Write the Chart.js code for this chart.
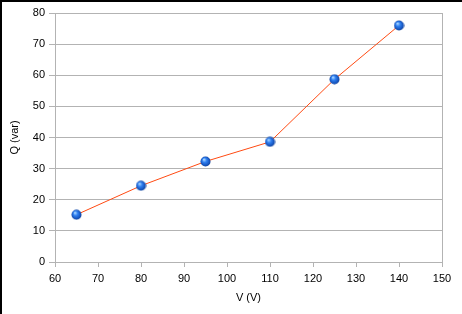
<!DOCTYPE html>
<html><head><meta charset="utf-8">
<script src="https://cdn.jsdelivr.net/npm/chart.js@4/dist/chart.umd.min.js"></script>
<style>
html,body{margin:0;padding:0;background:#fff;}
#wrap{width:462px;height:314px;box-sizing:border-box;border-top:2px solid #000;border-left:2px solid #000;background:#fff;}
canvas{display:block;}
</style></head>
<body><div id="wrap"><canvas id="c" width="460" height="312"></canvas></div>
<script>
const voltages = [65, 80, 95, 110, 125, 140];
const reactivePower = [15.2, 24.5, 32.3, 38.6, 58.7, 76.0];
const xTitle = 'V (V)';
const yTitle = 'Q (var)';

const GRID = '#b3b3b3';
const FONT = {family: '"Liberation Sans", Arial, sans-serif', size: 11};

// sphere-like marker
const dot = document.createElement('canvas');
dot.width = 11; dot.height = 11;
(function(){
  const g = dot.getContext('2d');
  const grad = g.createRadialGradient(4, 3.5, 0.5, 5.5, 5.5, 5.5);
  grad.addColorStop(0, '#9fd0ff');
  grad.addColorStop(0.35, '#2f7ff0');
  grad.addColorStop(0.8, '#1450b8');
  grad.addColorStop(1, '#0c3580');
  g.fillStyle = grad;
  g.beginPath(); g.arc(5.5, 5.5, 5, 0, Math.PI*2); g.fill();
})();

new Chart(document.getElementById('c'), {
  type: 'line',
  data: {
    datasets: [{
      data: voltages.map((v, i) => ({x: v, y: reactivePower[i]})),
      borderColor: '#ff4a12',
      borderWidth: 1,
      pointStyle: dot,
      pointRadius: 5,
      tension: 0,
      fill: false
    }]
  },
  options: {
    responsive: false,
    animation: false,
    events: [],
    layout: {padding: {top: 11, right: 20, left: 0, bottom: 0}},
    plugins: {legend: {display: false}, tooltip: {enabled: false}},
    scales: {
      x: {
        type: 'linear', min: 60, max: 150,
        ticks: {stepSize: 10, color: '#000', font: FONT, padding: 5, maxRotation: 0},
        grid: {
          color: ctx => (ctx.tick && ctx.tick.value === 150) ? GRID : 'rgba(0,0,0,0)',
          tickColor: GRID, tickLength: 5, lineWidth: 1
        },
        border: {color: GRID},
        title: {display: true, text: xTitle, color: '#000', font: FONT, padding: {top: 0, bottom: 9}},
        afterFit: s => { s.height = 52; }
      },
      y: {
        min: 0, max: 80,
        ticks: {stepSize: 10, color: '#000', font: FONT, padding: 4},
        grid: {color: GRID, tickColor: GRID, tickLength: 6, lineWidth: 1},
        border: {color: GRID},
        title: {display: true, text: yTitle, color: '#000', font: FONT, padding: {top: 6, bottom: 0}},
        afterFit: s => { s.width = 53; }
      }
    }
  }
});
</script>
</body></html>
